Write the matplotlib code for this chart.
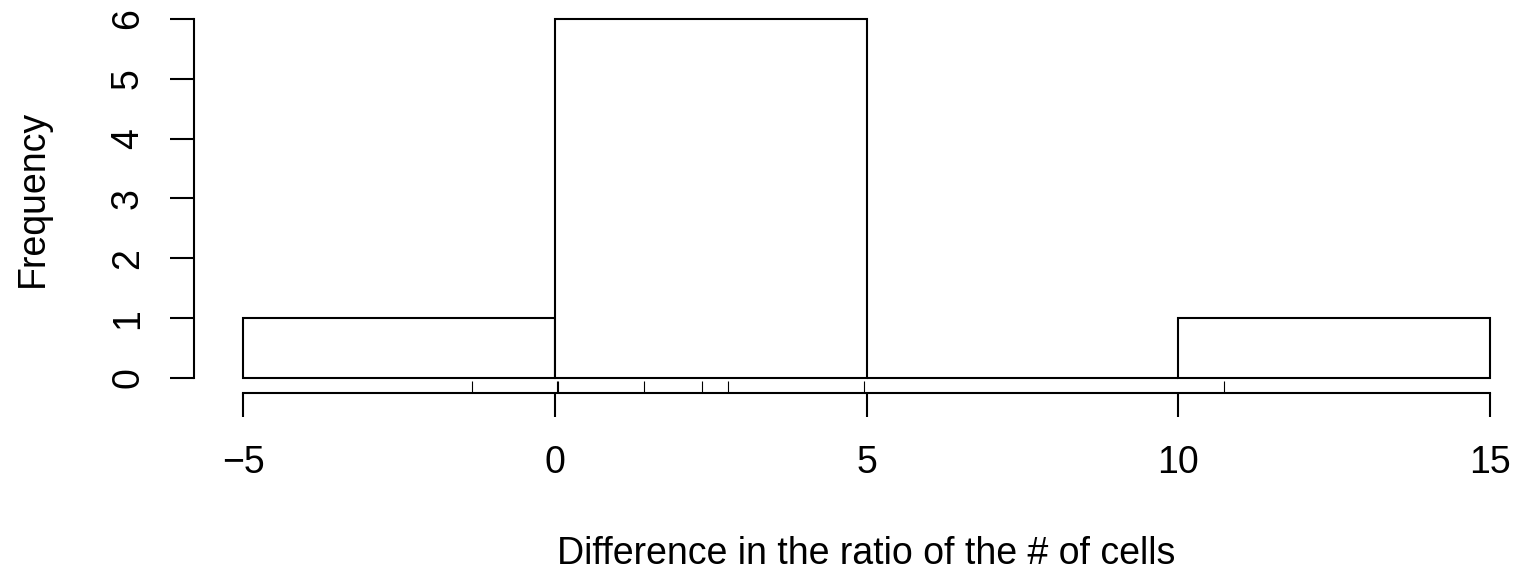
import matplotlib
matplotlib.use("Agg")
import matplotlib.pyplot as plt
import matplotlib.transforms as mtransforms

# differences (also shown as rug)
diffs = [-1.33, 0.03, 0.06, 1.43, 2.36, 2.78, 4.96, 10.74]
bin_edges = [-5, 0, 5, 10, 15]
x_ticks = [-5, 0, 5, 10, 15]
y_ticks = [0, 1, 2, 3, 4, 5, 6]

plt.rcParams['font.family'] = ['Liberation Sans', 'DejaVu Sans']

W, H = 1519, 580
PT = 0.72  # points per pixel at dpi 100
fig = plt.figure(figsize=(W / 100, H / 100), dpi=100)
# plot region in pixels: left 194, right 1519, top 5, bottom 393
ax = fig.add_axes([194 / W, (H - 393) / H, (W - 194) / W, (393 - 5) / H])

lw = 1.5
ax.hist(diffs, bins=bin_edges, facecolor='white', edgecolor='black', linewidth=lw)

px = 62.35  # pixels per x unit
py = 59.83  # pixels per y unit
ax.set_xlim(-5 - 49 / px, 15 + 29 / px)
ax.set_ylim(-15 / py, 6 + 14 / py)

# rug
trans = mtransforms.blended_transform_factory(ax.transData, ax.transAxes)
ax.vlines(diffs, 0, 0.03, transform=trans, color='black', linewidth=0.8)

for s in ['top', 'right']:
    ax.spines[s].set_visible(False)
ax.spines['left'].set_bounds(0, 6)
ax.spines['bottom'].set_bounds(-5, 15)
ax.spines['left'].set_linewidth(lw)
ax.spines['bottom'].set_linewidth(lw)

fs = 27
ax.set_xticks(x_ticks)
ax.set_yticks(y_ticks)
ax.set_yticklabels([str(v) for v in y_ticks], rotation=90, va='center')
ax.tick_params(axis='both', length=24 * PT, width=lw, labelsize=fs)
ax.tick_params(axis='x', pad=28 * PT)
ax.tick_params(axis='y', pad=24 * PT)

ax.set_xlabel('Difference in the ratio of the # of cells', fontsize=fs)
ax.set_ylabel('Frequency', fontsize=fs)
# centre x label on the data range, like base R
ax.xaxis.set_label_coords(5, (H - 536) / H,
                          transform=mtransforms.blended_transform_factory(ax.transData, fig.transFigure))
ax.yaxis.set_label_coords(51 / W, 3,
                          transform=mtransforms.blended_transform_factory(fig.transFigure, ax.transData))

fig.savefig('out.png', dpi=100)
